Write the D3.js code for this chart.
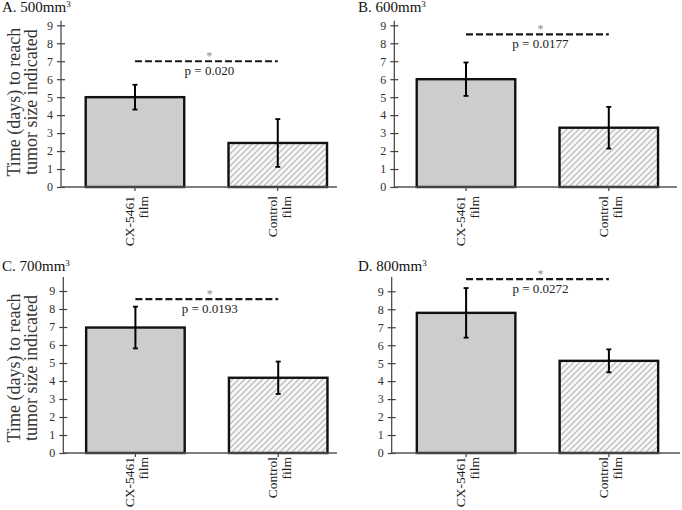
<!DOCTYPE html>
<html>
<head>
<meta charset="utf-8">
<script src="https://cdn.jsdelivr.net/npm/d3@7/dist/d3.min.js"></script>
<style>
  html, body { margin: 0; padding: 0; background: #fff; }
  svg { display: block; }
  text { font-family: "Liberation Serif", "Times New Roman", serif; }
</style>
</head>
<body>
<div id="chart"></div>
<script>
// ---------- data ----------
const panelTitles = ["A. 500mm", "B. 600mm", "C. 700mm", "D. 800mm"];
const categories = ["CX-5461 film", "Control film"];
const cxMeans = [5.0, 6.0, 6.97, 7.8];
const cxErrors = [0.69, 0.93, 1.16, 1.38];
const controlMeans = [2.45, 3.3, 4.18, 5.13];
const controlErrors = [1.33, 1.16, 0.9, 0.64];
const pLabels = ["p = 0.020", "p = 0.0177", "p = 0.0193", "p = 0.0272"];
const sigLevels = [7.0, 8.5, 8.55, 9.68];
const yTicks = [0, 1, 2, 3, 4, 5, 6, 7, 8, 9];
const yLabelLines = ["Time (days) to reach", "tumor size indicated"];

// ---------- layout ----------
const W = 682, H = 510;
const layout = [
  { axisX: 61,    y0: 187, y9: 25.3, top: 20.7, xEnd: 337, padOuter: 0.173, yLabel: true,  titleX: 2,   titleY: 12,  catOff: 9 },
  { axisX: 394.3, y0: 187, y9: 25.3, top: 20.7, xEnd: 677, padOuter: 0.157, yLabel: false, titleX: 358, titleY: 12,  catOff: 9 },
  { axisX: 63.3,  y0: 453, y9: 291,  top: 277,  xEnd: 337, padOuter: 0.16,  yLabel: true,  titleX: 2,   titleY: 271, catOff: 4 },
  { axisX: 391.7, y0: 453, y9: 291.3,top: 277,  xEnd: 680, padOuter: 0.176, yLabel: false, titleX: 358, titleY: 271, catOff: 4 }
];

const svg = d3.select("#chart").append("svg").attr("width", W).attr("height", H);

const defs = svg.append("defs");
const pat = defs.append("pattern")
  .attr("id", "hatch").attr("patternUnits", "userSpaceOnUse")
  .attr("width", 6).attr("height", 6);
pat.append("rect").attr("width", 6).attr("height", 6).attr("fill", "#f8f8f8");
pat.append("path").attr("d", "M0,6 L6,0 M-1.5,1.5 L1.5,-1.5 M4.5,7.5 L7.5,4.5")
  .attr("stroke", "#c2c2c2").attr("stroke-width", 1.5);

layout.forEach((L, i) => {
  const g = svg.append("g");
  const y = d3.scaleLinear().domain([0, 9]).range([L.y0, L.y9]);
  const step = 142.8;
  const total = step * (2 - 0.31 + 2 * L.padOuter);
  const x = d3.scaleBand().domain(categories).range([L.axisX, L.axisX + total])
    .paddingInner(0.31).paddingOuter(L.padOuter);

  const means = [cxMeans[i], controlMeans[i]];
  const errs = [cxErrors[i], controlErrors[i]];

  // bars
  g.selectAll("rect.bar").data(categories).enter().append("rect")
    .attr("class", "bar")
    .attr("x", d => x(d))
    .attr("width", x.bandwidth())
    .attr("y", (d, j) => y(means[j]))
    .attr("height", (d, j) => y(0) - y(means[j]))
    .attr("fill", (d, j) => j === 0 ? "#cdcdcd" : "url(#hatch)")
    .attr("stroke", "#111").attr("stroke-width", 2.4);

  // y axis
  const yAxis = d3.axisLeft(y).tickValues(yTicks).tickFormat(d3.format("d"))
    .tickSize(4).tickPadding(4);
  const ya = g.append("g").attr("transform", `translate(${L.axisX},0)`).call(yAxis);
  ya.attr("font-family", null);
  ya.select(".domain").remove();
  ya.selectAll(".tick line").attr("x1", -4).attr("x2", 4).attr("stroke", "#404040").attr("stroke-width", 1.2);
  ya.selectAll(".tick text").attr("fill", "#303030").style("font-size", "12px");
  g.append("line").attr("x1", L.axisX).attr("x2", L.axisX).attr("y1", L.top).attr("y2", L.y0)
    .attr("stroke", "#404040").attr("stroke-width", 1.2);

  // x axis
  const xAxis = d3.axisBottom(x).tickSize(4).tickFormat("");
  const xa = g.append("g").attr("transform", `translate(0,${L.y0})`).call(xAxis);
  xa.select(".domain").remove();
  xa.selectAll(".tick line").attr("stroke", "#404040").attr("stroke-width", 1.2);
  g.append("line").attr("x1", L.axisX).attr("x2", L.xEnd).attr("y1", L.y0).attr("y2", L.y0)
    .attr("stroke", "#555").attr("stroke-width", 1.4);

  // category labels (rotated)
  categories.forEach(c => {
    const words = c.split(" ");
    const cx = x(c) + x.bandwidth() / 2;
    const t = g.append("text")
      .attr("transform", `translate(${cx},${L.y0 + L.catOff}) rotate(-90)`)
      .attr("text-anchor", "end")
      .style("font-size", "13.5px").attr("fill", "#222");
    words.forEach((w, k) => {
      t.append("tspan").attr("x", 0).attr("y", k === 0 ? -1 : 13).text(w);
    });
  });

  // error bars
  categories.forEach((c, j) => {
    const cx = x(c) + x.bandwidth() / 2;
    const hi = y(means[j] + errs[j]), lo = y(means[j] - errs[j]);
    g.append("line").attr("x1", cx).attr("x2", cx).attr("y1", hi).attr("y2", lo)
      .attr("stroke", "#000").attr("stroke-width", 2);
    [hi, lo].forEach(yy => g.append("line").attr("x1", cx - 2.5).attr("x2", cx + 2.5)
      .attr("y1", yy).attr("y2", yy).attr("stroke", "#000").attr("stroke-width", 1.8));
  });

  // significance line
  const xs0 = x(categories[0]) + x.bandwidth() / 2;
  const xs1 = x(categories[1]) + x.bandwidth() / 2;
  const sy = y(sigLevels[i]);
  g.append("line").attr("x1", xs0).attr("x2", xs1).attr("y1", sy).attr("y2", sy)
    .attr("stroke", "#1a1a1a").attr("stroke-width", 2.2).attr("stroke-dasharray", "7,3");
  const mid = (xs0 + xs1) / 2 + 3;
  g.append("text").attr("x", mid).attr("y", sy - 1.5).attr("text-anchor", "middle")
    .style("font-size", "12px").attr("fill", "#8a8a8a").text("*");
  g.append("text").attr("x", mid).attr("y", sy + 14).attr("text-anchor", "middle")
    .style("font-size", "13px").attr("fill", "#222").text(pLabels[i]);

  // panel title
  const tt = g.append("text").attr("x", L.titleX).attr("y", L.titleY)
    .style("font-size", "15px").attr("fill", "#111").text(panelTitles[i]);
  tt.append("tspan").attr("dy", -5).style("font-size", "9px").text("3");

  // y label
  if (L.yLabel) {
    const cyMid = (L.y0 + L.y9) / 2 - 4;
    yLabelLines.forEach((ln, k) => {
      g.append("text")
        .attr("transform", `translate(${20 + k * 16.5},${cyMid}) rotate(-90)`)
        .attr("text-anchor", "middle")
        .style("font-size", "18px").attr("fill", "#333").text(ln);
    });
  }
});
</script>
</body>
</html>
